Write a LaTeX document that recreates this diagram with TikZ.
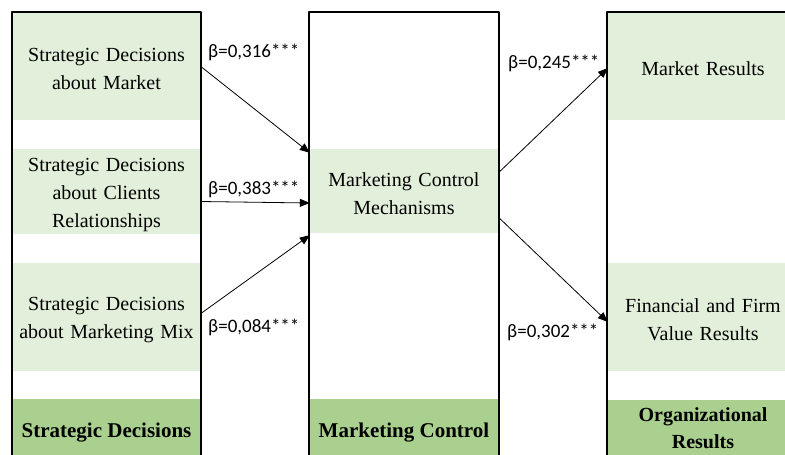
\documentclass[tikz,border=0pt]{standalone}
\usepackage{fontspec}
\setmainfont{Liberation Serif}
\newfontfamily\coeffont{Carlito}
\usetikzlibrary{arrows.meta,positioning,calc}
\definecolor{lightgrn}{HTML}{E2EFDA}
\definecolor{darkgrn}{HTML}{A9D08E}
\tikzset{
  factor/.style={fill=lightgrn, inner sep=0pt, text width=#1, align=center, text height=20pt, font=\fontsize{20}{28}\selectfont},
  header/.style={fill=darkgrn, inner sep=0pt, align=center, minimum height=56pt, font=\fontsize{20}{27}\selectfont\bfseries},
  onerow/.style={text height=21pt, text depth=0pt, font=\fontsize{21}{27}\selectfont\bfseries},
  coef/.style={anchor=west, inner sep=0pt, font=\coeffont\fontsize{19}{22}\selectfont},
  colline/.style={line width=2pt},
  link/.style={-{Triangle[length=10pt,width=8pt]}, line width=0.8pt}
}
\begin{document}
\begin{tikzpicture}[x=1pt,y=-1pt, line join=round]
  \useasboundingbox (0,0) rectangle (785,455);
  \clip (0,0) rectangle (785,455);
  % left column
  \node[factor=187pt, minimum height=108pt] (stmkt) at (106.5,66) {Strategic Decisions\\about Market};
  \node[factor=187pt, minimum height=85pt] (strel) at (106.5,191.5) {Strategic Decisions\\about Clients\\Relationships};
  \node[factor=187pt, minimum height=108pt] (stmix) at (106.5,317) {Strategic Decisions\\about Marketing Mix};
  \node[header, onerow, minimum width=187pt] (sthead) at (106.5,427) {Strategic Decisions};
  % middle column
  \node[factor=188pt, minimum height=84pt] (ctlmech) at (404,191) {Marketing Control\\Mechanisms};
  \node[header, onerow, minimum width=188pt] (ctlhead) at (404,427) {Marketing Control};
  % right column
  \node[factor=190pt, minimum height=108pt] (mktres) at (703,66) {Market Results};
  \node[factor=190pt, minimum height=108pt] (finres) at (703,317) {Financial and Firm\\Value Results};
  \node[header, minimum width=190pt] (orghead) at (703,428) {Organizational\\Results};
  % column frames
  \draw[colline] (12,460) -- (12,12) -- (201,12) -- (201,460);
  \draw[colline] (309,460) -- (309,12) -- (499,12) -- (499,460);
  \draw[colline] (607,460) -- (607,12) -- (790,12);
  % paths
  \draw[link] (stmkt.east) -- ([yshift=-4pt]ctlmech.north west);
  \draw[link] ([yshift=-10pt]strel.east) -- ([yshift=-12pt]ctlmech.west);
  \draw[link] ([yshift=3pt]stmix.east) -- ([yshift=-2pt]ctlmech.south west);
  \draw[link] ([yshift=18pt]ctlmech.east) -- ([yshift=-2pt]mktres.west);
  \draw[link] ([yshift=-26pt]ctlmech.east) -- ([yshift=-5pt]finres.west);
  % coefficients
  \node[coef] (b1) at (208,52) {β=0,316***};
  \node[coef] (b2) at (208,189) {β=0,383***};
  \node[coef] (b3) at (208,327) {β=0,084***};
  \node[coef] (b4) at (508,63) {β=0,245***};
  \node[coef] (b5) at (507,332) {β=0,302***};
\end{tikzpicture}
\end{document}
